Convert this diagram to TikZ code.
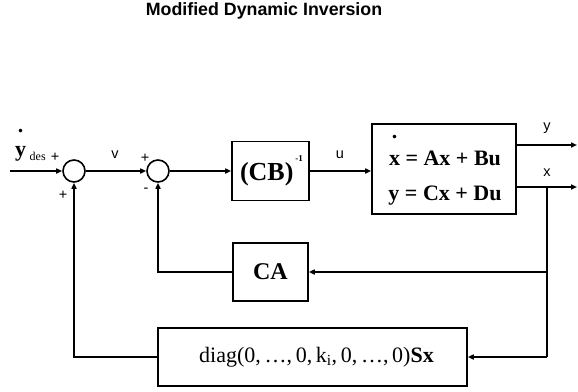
\documentclass[tikz,border=0pt]{standalone}
\usepackage{fontspec}
\setmainfont{Liberation Serif}
\newfontfamily\arial{Liberation Sans}
\usetikzlibrary{arrows.meta}
\newcommand\dotover[2]{\leavevmode\ooalign{#1\cr\hidewidth\smash{\raisebox{#2}{.}}\hidewidth\cr}}
\begin{document}
\begin{tikzpicture}[x=1pt,y=-1pt,
  line/.style={line width=1.6pt},
  arr/.style={line width=1.6pt, -{Triangle[length=6pt,width=5pt]}},
  blk/.style={draw, line width=1.6pt, inner sep=0pt},
  eqtext/.style={inner sep=0pt, anchor=base, font=\bfseries\fontsize{22}{22}\selectfont},
  sumc/.style={draw, circle, line width=1.6pt, minimum size=22pt, inner sep=0pt},
  lbl/.style={font=\arial\fontsize{14.5}{14.5}\selectfont, inner sep=0pt}
]
\useasboundingbox (0,0) rectangle (578,391);
\node[font=\arial\bfseries\fontsize{17.8}{18}\selectfont] (title) at (264,11) {Modified Dynamic Inversion};

\node[sumc] (s1) at (74,171) {};
\node[sumc] (s2) at (158,171) {};
\node[blk, minimum width=77pt, minimum height=59pt, font=\bfseries\fontsize{26}{26}\selectfont] (cb) at (270.5,171) {\hspace{2pt}(CB)\hspace{2pt}\raisebox{0.72em}{\fontsize{9}{9}\selectfont -1}};
\node[blk, minimum width=144pt, minimum height=90pt] (plant) at (444,169) {};
\node[eqtext] (eq1) at (445,165) {\dotover{x}{1.2em} = Ax + Bu};
\node[eqtext] (eq2) at (445,200) {y = Cx + Du};
\node[blk, minimum width=75pt, minimum height=58pt, font=\bfseries\fontsize{24}{24}\selectfont] (ca) at (270.5,272) {CA};
\node[blk, minimum width=309pt, minimum height=58pt, font=\fontsize{22}{22}\selectfont] (diag) at (312.5,357) {\hspace{8pt}diag(0,\,\ldots,\,0,\,k\textsubscript{i},\,0,\,\ldots,\,0)\textbf{Sx}};

\coordinate (in) at (10,171);
\coordinate (ye) at (577,145);
\coordinate (xe) at (577,187);
\coordinate (b1) at (547,187);
\coordinate (b2) at (547,272);
\coordinate (b3) at (547,357);

\draw[arr] (in) -- (s1);
\draw[arr] (s1) -- (s2);
\draw[arr] (s2) -- (cb);
\draw[arr] (cb.east) -- (cb.east -| plant.west);
\draw[arr] (plant.east |- ye) -- (ye);
\draw[arr] (plant.east |- xe) -- (xe);
\draw[line] (b1) -- (b3);
\draw[arr] (b2) -- (ca);
\draw[arr] (b3) -- (diag);
\draw[arr] (ca.west) -| (s2.south);
\draw[arr] (diag.west) -| (s1.south);

\node[anchor=base west, inner sep=0pt, font=\bfseries\fontsize{22}{22}\selectfont] (yd) at (15,156) {\dotover{y}{1.05em}};
\node[anchor=base west, inner sep=0pt, font=\fontsize{12}{12}\selectfont] (des) at (29.5,160) {des};
\node[lbl] (p1) at (55,157) {+};
\node[lbl] (p2) at (63,195) {+};
\node[lbl] (v) at (115,155) {v};
\node[lbl] (p3) at (145,158) {+};
\node[lbl] (m3) at (146,190) {-};
\node[lbl] (u) at (340,155) {u};
\node[lbl] (ylab) at (547,128) {y};
\node[lbl] (xlab) at (547,173) {x};
\end{tikzpicture}
\end{document}
